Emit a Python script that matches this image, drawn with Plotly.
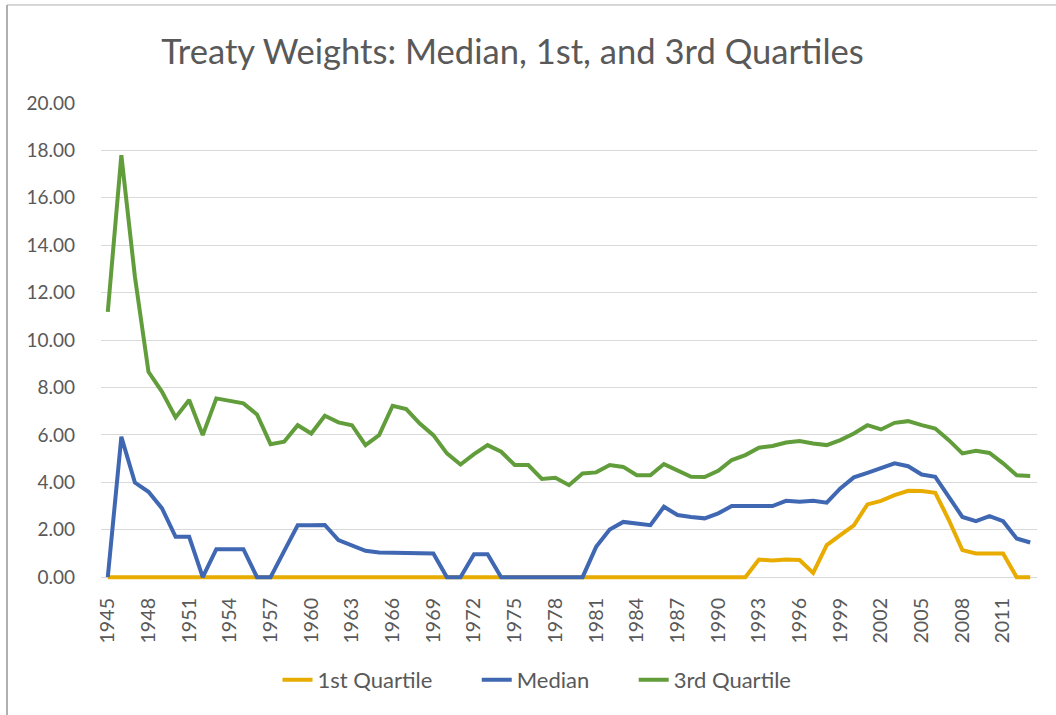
import plotly.graph_objects as go

years = list(range(1945, 2014))

q1 = [0]*48 + [0.74, 0.70, 0.74, 0.72, 0.18, 1.35, 1.77, 2.19, 3.07, 3.22, 3.46, 3.64, 3.63, 3.56, 2.41, 1.14, 1.00, 1.00, 1.00, 0.00, 0.00]

median = [0.00, 5.92, 3.99, 3.60, 2.90, 1.70, 1.70, 0.00, 1.18, 1.18, 1.18, 0.00, 0.00, 1.10, 2.19,
          2.19, 2.20, 1.56, 1.35, 1.11, 1.04, 1.03, 1.02, 1.00, 1.00, 0.00, 0.00, 0.97, 0.97, 0.00,
          0.00, 0.00, 0.00, 0.00, 0.00, 0.00, 1.28, 2.01, 2.33, 2.26, 2.19, 2.97, 2.62, 2.54, 2.48,
          2.69, 3.00, 3.00, 3.02, 3.00, 3.22, 3.18, 3.22, 3.14, 3.74, 4.21, 4.40, 4.58, 4.80, 4.68,
          4.33, 4.23, 3.39, 2.54, 2.36, 2.57, 2.36, 1.63, 1.46]

q3 = [11.19, 17.80, 12.67, 8.66, 7.82, 6.74, 7.47, 5.99, 7.54, 7.44, 7.33, 6.86, 5.61, 5.71, 6.41,
      6.06, 6.81, 6.53, 6.41, 5.57, 5.99, 7.23, 7.09, 6.48, 5.99, 5.22, 4.75, 5.19, 5.57, 5.29,
      4.73, 4.73, 4.14, 4.19, 3.88, 4.37, 4.42, 4.73, 4.65, 4.30, 4.30, 4.77, 4.49, 4.23, 4.22,
      4.49, 4.94, 5.15, 5.46, 5.53, 5.68, 5.74, 5.64, 5.57, 5.78, 6.06, 6.41, 6.23, 6.51, 6.58,
      6.41, 6.27, 5.78, 5.22, 5.33, 5.24, 4.80, 4.30, 4.27]

tick_years = list(range(1945, 2012, 3))
y_ticks = list(range(0, 21, 2))

names = ["1st Quartile", "Median", "3rd Quartile"]
colors = ["#E8AB00", "#3F67B2", "#629D3B"]
series = [q1, median, q3]

pad = "\u00a0" * 7
fig = go.Figure()
for i, (n, c, s) in enumerate(zip(names, colors, series)):
    label = n + (pad if i < len(names) - 1 else "")
    fig.add_trace(go.Scatter(x=years, y=s, mode="lines", name=label, cliponaxis=False,
                             line=dict(color=c, width=4)))

font_family = "Lato, Open Sans, sans-serif"
W, H = 1056, 715
ymin = -0.12
px_per_unit = (577 - 103) / 20.0
L, R, T = 101, 19, 103
B = H - (577 + (-ymin) * px_per_unit)
pw = W - L - R
ph = H - T - B


def px_x(p):
    return (p - L) / pw


def px_y(p):
    return (H - B - p) / ph


fig.update_layout(
    width=W, height=H,
    margin=dict(l=L, r=R, t=T, b=B, autoexpand=False),
    paper_bgcolor="white", plot_bgcolor="white",
    font=dict(family=font_family, color="#595959"),
    title=dict(text="Treaty Weights: Median, 1st, and 3rd Quartiles",
               x=512.5 / W, xref="container", xanchor="center",
               y=1 - 52 / H, yref="container", yanchor="middle",
               font=dict(size=34.6, color="#595959", family=font_family)),
    showlegend=True,
    legend=dict(orientation="h", x=537 / W, xref="container", xanchor="center",
                y=1 - 680 / H, yref="container", yanchor="middle",
                font=dict(size=22, color="#595959"),
                itemwidth=30, traceorder="normal"),
    xaxis=dict(range=[1944.5, 2013.5], tickmode="array", tickvals=tick_years,
               ticktext=[str(y) for y in tick_years], tickangle=-90,
               showgrid=False, zeroline=False, showline=False, automargin=False,
               tickfont=dict(size=19.7, color="#595959"), ticks="", ticklen=0,
               ticklabelstandoff=13),
    yaxis=dict(range=[ymin, 20], tickmode="array", tickvals=y_ticks,
               ticktext=[f"{v:.2f}" for v in y_ticks],
               showgrid=True, gridcolor="#D9D9D9", gridwidth=1.3,
               zeroline=False, showline=False, automargin=False,
               tickfont=dict(size=19, color="#595959"), ticks="", ticklabelstandoff=25),
    shapes=[
        dict(type="line", xref="paper", yref="paper",
             x0=px_x(7), x1=px_x(7), y0=px_y(H), y1=px_y(5),
             line=dict(color="#B0B0B0", width=2)),
        dict(type="line", xref="paper", yref="paper",
             x0=px_x(7), x1=px_x(W), y0=px_y(5), y1=px_y(5),
             line=dict(color="#B0B0B0", width=1)),
    ],
)

fig.write_html("out.html", config={"displayModeBar": False},
               post_script="document.body.style.margin='0';document.body.style.overflow='hidden';")
